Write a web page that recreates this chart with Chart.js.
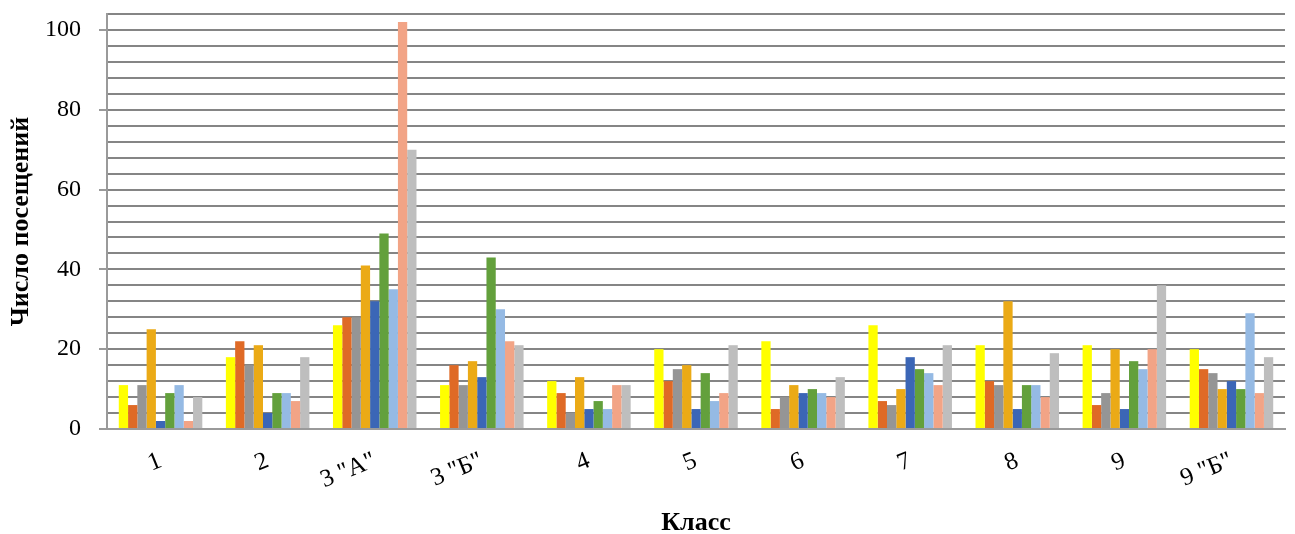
<!DOCTYPE html>
<html>
<head>
<meta charset="utf-8">
<script src="https://cdn.jsdelivr.net/npm/chart.js@4"></script>
<style>
  html, body { margin: 0; padding: 0; background: #fff; }
  #wrap { width: 1295px; height: 534px; position: relative; }
</style>
</head>
<body>
<div id="wrap"><canvas id="visits-chart"></canvas></div>
<script>
const classes = ["1", "2", '3 "А"', '3 "Б"', "4", "5", "6", "7", "8", "9", '9 "Б"'];
const months = ["Сентябрь", "Октябрь", "Ноябрь", "Декабрь", "Январь", "Февраль", "Март", "Апрель", "Май"];

// one array per month (series), values per class
const sep = [11, 18, 26, 11, 12, 20, 22, 26, 21, 21, 20];
const oct = [6, 22, 28, 16, 9, 12, 5, 7, 12, 6, 15];
const nov = [11, 16, 28, 11, 4, 15, 8, 6, 11, 9, 14];
const dec = [25, 21, 41, 17, 13, 16, 11, 10, 32, 20, 10];
const jan = [2, 4, 32, 13, 5, 5, 9, 18, 5, 5, 12];
const feb = [9, 9, 49, 43, 7, 14, 10, 15, 11, 17, 10];
const mar = [11, 9, 35, 30, 5, 7, 9, 14, 11, 15, 29];
const apr = [2, 7, 102, 22, 11, 9, 8, 11, 8, 20, 9];
const may = [8, 18, 70, 21, 11, 21, 13, 21, 19, 36, 18];

const seriesData = [sep, oct, nov, dec, jan, feb, mar, apr, may];
const colors = ["#FFFF00", "#DF6A26", "#959595", "#EBAA16", "#3B66B6", "#63A03C", "#95BAE4", "#F2A486", "#BEBEBE"];

const serif = "'Liberation Serif', 'DejaVu Serif', serif";

const ctx = document.getElementById("visits-chart").getContext("2d");

new Chart(ctx, {
  type: "bar",
  data: {
    labels: classes,
    datasets: seriesData.map((d, i) => ({
      label: months[i],
      data: d,
      backgroundColor: colors[i],
      borderWidth: 0,
      barPercentage: 1,
      categoryPercentage: 0.78,
    })),
  },
  options: {
    responsive: true,
    maintainAspectRatio: false,
    animation: false,
    layout: { padding: { top: 14, right: 10, left: 0, bottom: 0 } },
    plugins: {
      legend: { display: false },
      tooltip: { enabled: false },
    },
    scales: {
      x: {
        grid: { display: false, drawTicks: false },
        border: { color: "#9a9a9a", width: 2 },
        afterFit: (scale) => { scale.height = 105; },
        ticks: {
          color: "#000",
          font: { family: serif, size: 25 },
          minRotation: 22,
          maxRotation: 22,
          padding: 17,
        },
        title: {
          display: true,
          text: "Класс",
          color: "#000",
          font: { family: serif, size: 26, weight: "bold" },
          padding: { top: 4, bottom: -5 },
        },
      },
      y: {
        min: 0,
        max: 104,
        afterFit: (scale) => {
          scale.width = 107;
          scale.paddingTop = 0;
          scale.paddingBottom = 0;
        },
        ticks: {
          stepSize: 4,
          color: "#000",
          font: { family: serif, size: 24 },
          padding: 18,
          autoSkip: false,
          callback: (v) => (v % 20 === 0 ? v : ""),
        },
        grid: {
          color: "#858585",
          lineWidth: 2,
          tickLength: 8,
          tickColor: (c) => (c.tick && c.tick.value % 20 === 0 ? "#9a9a9a" : "transparent"),
        },
        border: { color: "#9a9a9a", width: 2 },
        title: {
          display: true,
          text: "Число посещений",
          color: "#000",
          font: { family: serif, size: 26, weight: "bold" },
          padding: { top: 6, bottom: 0 },
        },
      },
    },
  },
});
</script>
</body>
</html>
